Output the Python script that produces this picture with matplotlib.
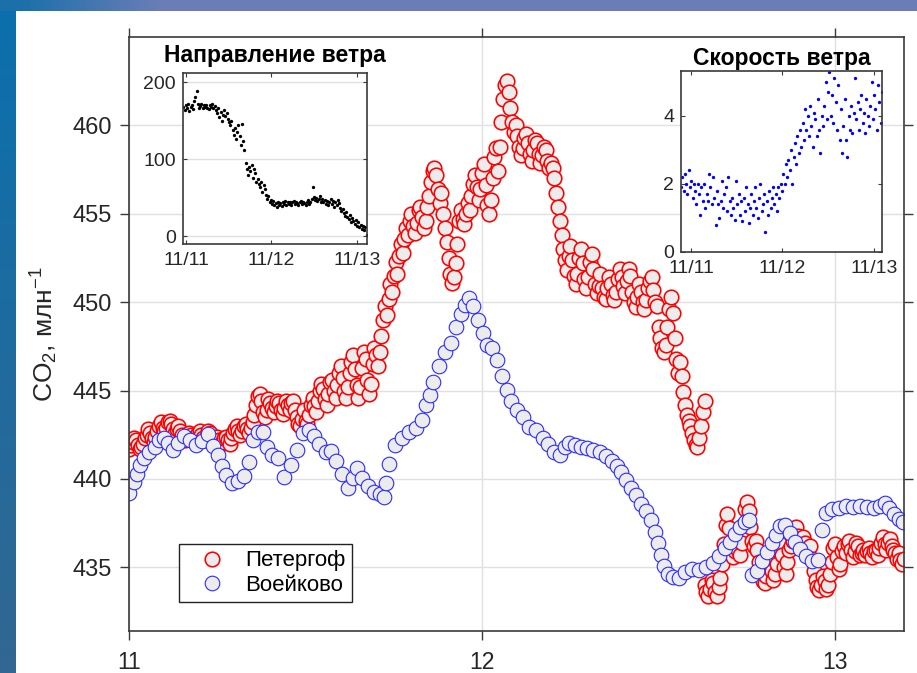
import numpy as np
import matplotlib
matplotlib.use('Agg')
import matplotlib.pyplot as plt
from matplotlib.colors import to_rgb

plt.rcParams['font.family'] = ['Liberation Sans', 'DejaVu Sans']
plt.rcParams['mathtext.fontset'] = 'custom'
plt.rcParams['mathtext.rm'] = 'Liberation Sans'
plt.rcParams['mathtext.it'] = 'Liberation Sans:italic'
plt.rcParams['mathtext.bf'] = 'Liberation Sans:bold'
plt.rcParams['mathtext.default'] = 'regular'

# ---------------- data ----------------
# Peterhof CO2 (ppm), sampled every 0.005 day
red1_start, red_step = 11.00, 0.005
red1 = [441.7, 441.9, 442.1, 442.3, 442.2, 441.9, 441.7, 441.8, 442.0, 442.3,
        442.5, 442.8, 442.6, 442.3, 442.1, 442.4, 442.7, 443.0, 443.2, 442.9,
        442.7, 442.9, 443.2, 443.3, 443.1, 442.8, 442.6, 442.8, 443.0, 442.7,
        442.5, 442.3, 442.2, 442.4, 442.6, 442.5, 442.3, 442.2, 442.4, 442.6,
        442.7, 442.5, 442.3, 442.2, 442.4, 442.7, 442.6, 442.4, 442.2, 442.3,
        442.4, 442.2, 442.0, 442.1, 442.3, 442.4, 442.2, 442.0, 442.3, 442.6,
        442.8, 443.0, 442.7, 442.5, 442.7, 443.0, 443.1, 442.8, 442.6, 442.9,
        443.2, 443.6, 444.2, 444.7, 444.8, 444.4, 443.8, 443.5, 443.9, 444.5,
        444.3, 444.0, 443.8, 444.1, 444.4, 444.3, 443.9, 443.7, 444.0, 444.4,
        444.2, 443.9, 444.3, 444.4, 443.9, 443.5, 443.1, 443.0, 443.4, 443.9,
        443.3, 443.1, 443.6, 444.2, 444.6, 444.1, 443.8, 444.4, 445.0, 445.4,
        445.1, 444.5, 444.2, 444.8, 445.5, 445.6, 445.0, 444.6, 445.3, 446.0,
        446.4, 445.7, 445.0, 444.6, 445.2, 446.0, 446.6, 447.0, 446.2, 445.3,
        444.6, 445.2, 446.3, 447.2, 446.8, 445.6, 444.8, 445.4, 446.5, 447.4,
        447.0, 446.4, 447.2, 448.1, 449.0, 449.8, 449.3, 450.2, 451.0, 450.6,
        451.5, 452.3, 451.6, 452.6, 453.3, 452.8, 453.6, 454.2, 453.8, 454.6,
        455.0, 454.3, 453.9, 454.5, 455.2, 455.4, 454.8, 454.2, 454.6, 455.4,
        456.0, 456.8, 457.4, 457.6, 457.2, 456.4, 455.6, 456.2, 455.0, 454.2,
        453.4, 452.5, 451.6, 451.1, 451.4, 452.2, 453.3, 454.6, 455.2, 454.7,
        454.4, 455.0, 455.6, 455.2, 456.0, 456.7, 457.2, 456.5, 455.8, 456.4,
        457.3, 457.8, 456.6, 455.5, 455.0, 455.8, 457.0, 458.2, 458.7, 457.4,
        458.8, 460.2, 461.5, 462.3, 462.5, 461.9, 461.0, 460.2, 459.6, 460.0,
        459.4, 458.8, 458.3, 458.7, 459.3, 459.5, 459.0, 458.4, 458.0, 458.6,
        459.2, 459.0, 458.4, 457.9, 458.3, 458.8, 458.6, 458.0, 457.6, 457.9,
        457.6, 457.0, 456.2, 455.4, 454.6, 453.8, 453.0, 452.4, 451.8, 452.6,
        453.2, 452.4, 451.5, 451.0, 451.6, 452.5, 453.0, 452.2, 451.3, 450.8,
        451.4, 452.3, 452.7, 451.9, 451.0, 450.5, 450.9, 451.6, 450.8, 450.3,
        450.2, 450.8, 451.4, 451.0, 450.4, 450.1, 450.6, 451.3, 451.9, 451.4,
        450.9, 450.5, 451.2, 451.9, 451.5, 450.6, 450.0, 449.7, 450.3, 451.0,
        450.6, 450.0, 449.6, 450.1, 450.8, 451.2, 451.4, 450.7, 450.0, 449.8,
        448.6, 448.0, 447.4, 447.2, 447.6, 448.6, 449.6, 450.3, 449.4, 448.0,
        446.8, 446.0, 446.6, 445.8, 444.9, 444.2, 443.6, 443.3, 443.0, 442.6,
        442.2, 441.9, 441.8, 442.3, 443.0, 443.8, 444.4]
red2_start = 12.63
red2 = [434.0, 433.6, 433.4, 433.8, 434.3, 434.1, 433.6, 433.4, 433.9, 434.4,
        435.2, 436.3, 437.4, 438.0, 437.2, 436.2, 435.6, 435.9, 436.3, 436.0,
        435.7, 436.4, 437.4, 438.3, 438.7, 438.2, 437.3, 436.5, 436.2, 436.5,
        436.0, 435.3, 434.7, 434.2, 434.1, 434.5, 435.0, 435.4, 434.8, 434.3,
        434.6, 435.2, 435.9, 436.3, 435.7, 435.0, 434.6, 435.3, 436.0, 436.2,
        436.5, 437.0, 437.3, 436.8, 436.3, 436.2, 436.7, 436.4, 435.8, 435.6,
        436.2, 435.5, 434.8, 434.3, 433.9, 433.7, 434.0, 434.5, 434.2, 433.8,
        434.0, 434.6, 435.3, 436.1, 436.3, 435.6, 434.9, 435.2, 435.9, 436.2,
        435.8, 436.3, 436.5, 436.0, 435.6, 435.9, 436.4, 436.2, 435.7, 435.8,
        436.0, 435.7, 435.9, 436.1, 435.8, 435.6, 435.9, 436.0, 435.7, 436.1,
        436.4, 436.7, 436.3, 436.0, 436.4, 436.6, 436.2, 436.0, 435.8, 435.5,
        435.8, 435.4, 435.2, 435.5]

# Voeikovo CO2 (ppm)
blue_t = [11.000, 11.014, 11.023, 11.031, 11.042, 11.057, 11.074, 11.085, 11.099, 11.110,
          11.125, 11.139, 11.156, 11.173, 11.190, 11.207, 11.224, 11.238, 11.252, 11.263,
          11.275, 11.292, 11.309, 11.326, 11.340, 11.351, 11.365, 11.380, 11.391, 11.405,
          11.422, 11.439, 11.459, 11.476, 11.493, 11.510, 11.524, 11.538, 11.558, 11.572,
          11.586, 11.603, 11.620, 11.635, 11.646, 11.660, 11.677, 11.694, 11.711, 11.722,
          11.728, 11.737, 11.754, 11.773, 11.793, 11.813, 11.830, 11.841, 11.853, 11.861,
          11.878, 11.895, 11.912, 11.926, 11.941, 11.952, 11.963, 11.975, 11.989, 12.003,
          12.014, 12.028, 12.042, 12.057, 12.071, 12.082, 12.099, 12.116, 12.133, 12.153,
          12.173, 12.187, 12.204, 12.221, 12.235, 12.246, 12.263, 12.280, 12.297, 12.314,
          12.334, 12.351, 12.368, 12.382, 12.394, 12.408, 12.422, 12.436, 12.450, 12.465,
          12.479, 12.490, 12.499, 12.507, 12.516, 12.527, 12.541, 12.558, 12.575, 12.595,
          12.615, 12.635, 12.654, 12.671, 12.688, 12.703, 12.717, 12.731, 12.745, 12.756,
          12.765, 12.779, 12.793, 12.807, 12.822, 12.833, 12.844, 12.858, 12.873, 12.887,
          12.901, 12.918, 12.935, 12.952, 12.963, 12.975, 12.992, 13.011, 13.031, 13.051,
          13.071, 13.091, 13.110, 13.127, 13.142, 13.153, 13.167, 13.181, 13.193]
blue_v = [439.19, 439.81, 440.26, 440.77, 441.17, 441.50, 441.79, 442.18, 442.30, 442.01,
          441.62, 442.01, 442.41, 442.18, 441.90, 442.13, 442.52, 441.84, 441.33, 440.71,
          440.20, 439.75, 439.86, 440.15, 440.94, 442.18, 442.64, 442.64, 441.79, 441.33,
          441.17, 440.09, 440.77, 441.62, 442.58, 442.75, 442.41, 441.96, 441.50, 441.56,
          441.00, 440.26, 439.47, 440.03, 440.60, 440.03, 439.58, 439.24, 439.13, 438.96,
          439.75, 440.83, 441.90, 442.30, 442.64, 442.86, 443.31, 444.16, 444.73, 445.46,
          446.37, 447.16, 447.67, 448.57, 449.31, 449.82, 450.21, 449.76, 448.97, 448.24,
          447.56, 447.39, 446.71, 445.80, 445.01, 444.39, 443.88, 443.48, 442.92, 442.75,
          442.30, 441.96, 441.50, 441.33, 441.79, 442.01, 441.90, 441.79, 441.73, 441.62,
          441.50, 441.28, 441.00, 440.71, 440.37, 439.92, 439.47, 439.07, 438.56, 438.17,
          437.66, 436.98, 436.36, 435.68, 435.06, 434.60, 434.43, 434.38, 434.72, 434.89,
          434.83, 435.00, 435.23, 435.62, 436.07, 436.41, 436.87, 437.26, 437.55, 437.66,
          434.55, 434.77, 435.34, 435.85, 436.36, 436.81, 437.32, 437.38, 436.92, 436.41,
          436.02, 435.62, 435.34, 435.40, 437.09, 438.05, 438.28, 438.34, 438.45, 438.39,
          438.45, 438.39, 438.34, 438.45, 438.62, 438.34, 438.00, 437.71, 437.55]

# wind direction (deg), every 0.014 day
dir_start, wind_step = 10.97, 0.014
wind_dir = [168, 164, 170, 166, 172, 163, 168, 171, 165, 176, 181, 189, 172, 166, 169, 172,
            166, 170, 168, 171, 167, 165, 170, 168, 172, 166, 169, 164, 160, 166, 155, 162,
            150, 158, 164, 156, 160, 152, 148, 145, 150, 138, 132, 141, 126, 136, 145, 130,
            118, 146, 124, 112, 95, 88, 80, 90, 85, 92, 76, 88, 82, 70, 74, 68,
            64, 70, 58, 66, 62, 54, 48, 52, 44, 47, 42, 46, 40, 43, 38, 45,
            41, 43, 39, 44, 42, 46, 40, 44, 42, 45, 41, 44, 46, 42, 45, 43,
            40, 44, 46, 42, 45, 43, 41, 44, 47, 42, 45, 49, 64, 51, 47, 50,
            46, 48, 52, 45, 49, 44, 47, 42, 46, 40, 44, 48, 42, 46, 38, 44,
            41, 47, 43, 37, 33, 36, 30, 27, 32, 25, 22, 28, 19, 24, 20, 16,
            21, 14, 18, 12, 15, 10, 14, 8, 12, 2]
# wind speed (m/s), every 0.014 day
spd_start = 10.89
wind_spd = [1.9, 2.2, 1.8, 2.3, 2.0, 1.7, 2.4, 1.9, 2.1, 1.6, 2.0, 1.8, 1.4, 2.0, 1.7, 1.1,
            1.9, 1.5, 2.0, 1.3, 1.7, 1.5, 2.3, 1.9, 1.4, 2.2, 1.6, 0.8, 1.8, 1.4, 1.0, 1.5,
            2.1, 1.3, 1.7, 1.9, 1.2, 2.2, 1.5, 1.1, 1.6, 1.3, 0.95, 2.1, 1.4, 1.7, 1.1, 1.5,
            0.9, 1.6, 1.2, 1.9, 1.4, 0.85, 1.3, 1.7, 1.1, 1.5, 1.9, 1.3, 1.0, 1.6, 2.0, 1.2,
            1.4, 1.7, 0.6, 1.5, 1.1, 1.8, 1.3, 1.6, 1.9, 1.4, 1.7, 1.2, 1.9, 1.6, 2.0, 1.8,
            2.3, 2.0, 2.6, 2.2, 2.7, 2.4, 3.0, 2.0, 2.8, 3.2, 2.6, 3.4, 2.9, 3.6, 3.1, 3.8,
            3.3, 4.2, 3.6, 4.0, 3.4, 4.3, 3.7, 3.1, 4.1, 3.9, 3.4, 4.5, 3.6, 2.9, 4.0, 3.7,
            4.3, 5.0, 3.9, 4.7, 5.3, 4.0, 4.6, 3.8, 5.1, 4.4, 3.6, 4.9, 3.3, 4.2, 2.9, 3.7,
            4.5, 3.3, 2.8, 4.0, 3.6, 4.3, 3.5, 4.1, 5.1, 3.9, 4.4, 3.6, 4.2, 4.6, 3.8, 4.1,
            3.5, 4.5, 4.0, 3.7, 4.3, 5.0, 3.9, 4.6, 4.2, 3.6, 4.9, 4.4, 3.8, 4.7]

main_xticks = [11, 12, 13]
main_xticklabels = ['11', '12', '13']
main_yticks = [435, 440, 445, 450, 455, 460]
inset_xticks = [11, 12, 13]
inset_xticklabels = ['11/11', '11/12', '11/13']
dir_yticks = [0, 100, 200]
spd_yticks = [0, 2, 4]
series_labels = ['Петергоф', 'Воейково']

red1_t = red1_start + red_step * np.arange(len(red1))
red2_t = red2_start + red_step * np.arange(len(red2))
dir_t = dir_start + wind_step * np.arange(len(wind_dir))
spd_t = spd_start + wind_step * np.arange(len(wind_spd))

# ---------------- figure ----------------
W, H = 917, 673
fig = plt.figure(figsize=(W / 100, H / 100), dpi=100)
fig.patch.set_facecolor('white')

# slide background (blue strips)
bg = fig.add_axes([0, 0, 1, 1], zorder=-10)
img = np.ones((H, W, 3))
c_top_a, c_top_b = np.array(to_rgb('#1b70aa')), np.array(to_rgb('#6b7db7'))
xs = np.clip((np.arange(W) - 20) / 140.0, 0, 1)[:, None]
img[:11, :, :] = (c_top_a * (1 - xs) + c_top_b * xs)[None, :, :]
c_l_a, c_l_b = np.array(to_rgb('#0a70ad')), np.array(to_rgb('#326792'))
ys = np.linspace(0, 1, H)[:, None]
img[11:, :16, :] = (c_l_a * (1 - ys) + c_l_b * ys)[11:, None, :]
bg.imshow(img, aspect='auto', extent=[0, 1, 0, 1], interpolation='nearest')
bg.axis('off')

spine_col = '#3a3a3a'
ax = fig.add_axes([129 / W, 1 - 631 / H, 775 / W, 594 / H])
ax.set_facecolor('white')
mk = dict(ls='none', marker='o', ms=10.5, mfc='#ececec')
l1, = ax.plot(red1_t, red1, mec='#ff0000', mew=1.15, label=series_labels[0], **mk)
ax.plot(red2_t, red2, mec='#ff0000', mew=1.15, **mk)
l2, = ax.plot(blue_t, blue_v, mec='#2b2bff', mew=0.8, label=series_labels[1], **mk)

ax.set_xlim(11.0, 13.195)
ax.set_ylim(431.4, 465.0)
ax.set_xticks(main_xticks)
ax.set_xticklabels(main_xticklabels)
ax.set_yticks(main_yticks)
ax.grid(True, color='#e0e0e0', lw=1.0)
ax.set_axisbelow(True)
ax.tick_params(direction='out', length=6.5, width=1.0, color=spine_col,
               labelsize=17, labelcolor='#262626', top=True, right=True)
ax.tick_params(axis='x', pad=8, labelsize=16.5)
ax.tick_params(axis='y', pad=6)
for s in ax.spines.values():
    s.set_color(spine_col)
    s.set_linewidth(1.2)
ax.set_ylabel('CO$_2$, млн$^{-1}$', fontsize=19, color='#262626', labelpad=9)

leg = ax.legend(handles=[l1, l2], loc='lower left', bbox_to_anchor=(0.064, 0.048),
                fontsize=16, frameon=True, fancybox=False, framealpha=1,
                edgecolor='#222222', borderpad=0.3, handlelength=2.4,
                handletextpad=0.3, labelspacing=0.15, borderaxespad=0)
leg.get_frame().set_linewidth(1.0)

# ---------------- insets ----------------
def style_inset(a):
    a.set_facecolor('white')
    a.tick_params(direction='in', length=3, width=0.8, color=spine_col,
                  labelsize=14, labelcolor='#262626', top=True, right=True)
    a.tick_params(axis='x', pad=6)
    a.tick_params(axis='y', pad=5)
    for s in a.spines.values():
        s.set_color(spine_col)
        s.set_linewidth(1.2)
    a.set_xticks(inset_xticks)
    a.set_xticklabels(inset_xticklabels)

a1 = fig.add_axes([183 / W, 1 - 244 / H, 184 / W, 171 / H])
a1.plot(dir_t, wind_dir, ls='none', marker='o', ms=2.4, color='black', mew=0)
a1.set_xlim(10.965, 13.117)
a1.set_ylim(-10, 212)
a1.set_yticks(dir_yticks)
a1.yaxis.grid(True, color='#e0e0e0', lw=1.0)
a1.set_axisbelow(True)
style_inset(a1)
a1.set_title('Направление ветра', fontsize=16.5, fontweight='bold', pad=8)

a2 = fig.add_axes([681 / W, 1 - 252 / H, 201 / W, 181 / H])
a2.plot(spd_t, wind_spd, ls='none', marker='o', ms=2.4, color='#0000ff', mew=0)
a2.set_xlim(10.89, 13.09)
a2.set_ylim(0, 5.32)
a2.set_yticks(spd_yticks)
style_inset(a2)
a2.set_title('Скорость ветра', fontsize=16.5, fontweight='bold', pad=4)

fig.savefig('out.png', dpi=100)
